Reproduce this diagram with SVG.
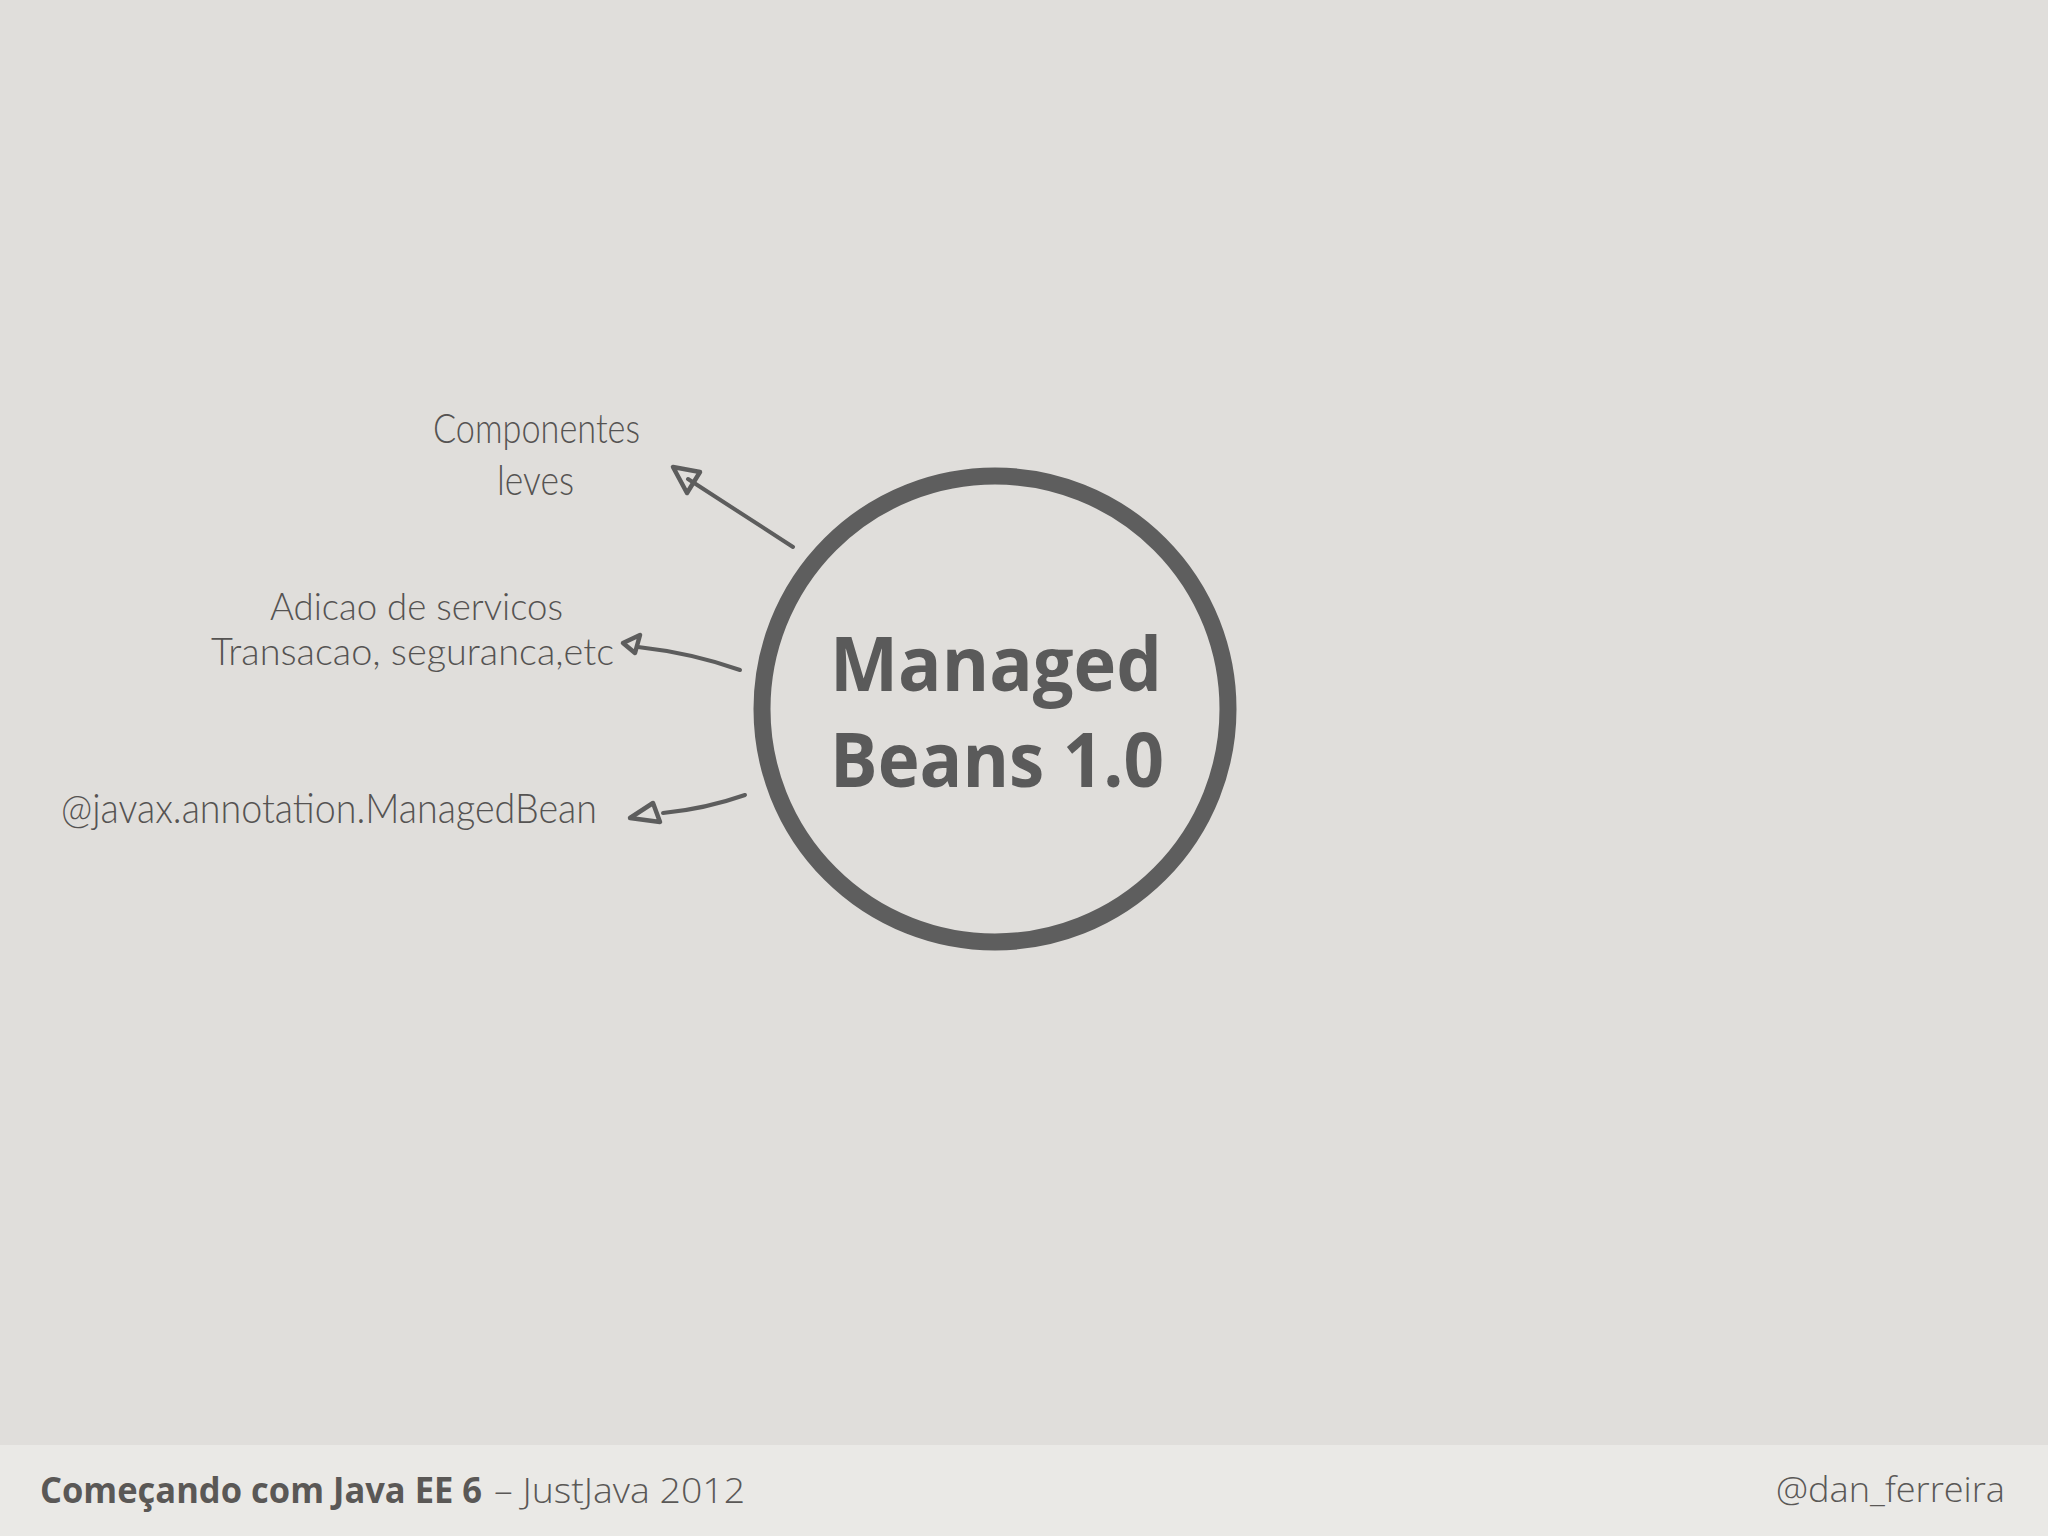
<svg xmlns="http://www.w3.org/2000/svg" width="2048" height="1536" viewBox="0 0 2048 1536">
  <style>
    .hand { font-family: "Lato", "Open Sans", "Liberation Sans", sans-serif; font-weight: 300; font-size: 42px; fill: #555352; }
    .hand-s { font-family: "Lato", "Open Sans", "Liberation Sans", sans-serif; font-weight: 300; font-size: 37px; fill: #555352; }
    .title { font-family: "Open Sans", "Noto Sans", "Liberation Sans", sans-serif; font-weight: 700; font-size: 75px; fill: #5a5a5a; }
    .conn { fill: none; stroke: #5d5d5d; stroke-width: 4; stroke-linecap: round; stroke-linejoin: round; }
    .head { fill: none; stroke: #5d5d5d; stroke-width: 4.5; stroke-linejoin: round; }
    .foot-b { font-family: "Open Sans", "Liberation Sans", sans-serif; font-weight: 700; font-size: 35px; fill: #5a5856; }
    .foot-l { font-family: "Open Sans", "Liberation Sans", sans-serif; font-weight: 300; font-size: 35px; fill: #5a5856; }
  </style>
  <rect x="0" y="0" width="2048" height="1536" fill="#e0dedb"/>
  <rect x="0" y="1445" width="2048" height="91" fill="#eae9e6"/>

  <g id="node-managed-beans">
    <circle cx="995" cy="709" r="233" fill="none" stroke="#5e5e5e" stroke-width="17"/>
    <text class="title" x="996" y="691" text-anchor="middle" textLength="332" lengthAdjust="spacingAndGlyphs">Managed</text>
    <text class="title" x="997" y="787" text-anchor="middle" textLength="334" lengthAdjust="spacingAndGlyphs">Beans 1.0</text>
  </g>

  <g id="node-componentes">
    <text class="hand" x="433" y="443" textLength="207" lengthAdjust="spacingAndGlyphs">Componentes</text>
    <text class="hand" x="497" y="495" textLength="77" lengthAdjust="spacingAndGlyphs">leves</text>
  </g>

  <g id="node-servicos">
    <text class="hand-s" x="270" y="620" textLength="293" lengthAdjust="spacingAndGlyphs">Adicao de servicos</text>
    <text class="hand-s" x="211" y="665" textLength="403" lengthAdjust="spacingAndGlyphs">Transacao, seguranca,etc</text>
  </g>

  <g id="node-annotation">
    <text class="hand" x="61" y="823" textLength="536" lengthAdjust="spacingAndGlyphs">@javax.annotation.ManagedBean</text>
  </g>

  <g id="connectors">
    <path class="conn" d="M793,547 L688,479"/>
    <polygon class="head" points="673,467 700,472 687,493"/>
    <path class="conn" d="M740,670 Q692,653 638,647"/>
    <polygon class="head" points="623,643 640,635 635,653"/>
    <path class="conn" d="M745,795 Q705,809 663,813"/>
    <polygon class="head" points="630,818 653,803 660,822"/>
  </g>

  <g id="footer">
    <text class="foot-b" x="40" y="1503" textLength="442" lengthAdjust="spacingAndGlyphs">Começando com Java EE 6</text>
    <text class="foot-l" x="494" y="1503" textLength="251" lengthAdjust="spacingAndGlyphs">– JustJava 2012</text>
    <text class="foot-l" x="1776" y="1502" textLength="229" lengthAdjust="spacingAndGlyphs">@dan_ferreira</text>
  </g>
</svg>
